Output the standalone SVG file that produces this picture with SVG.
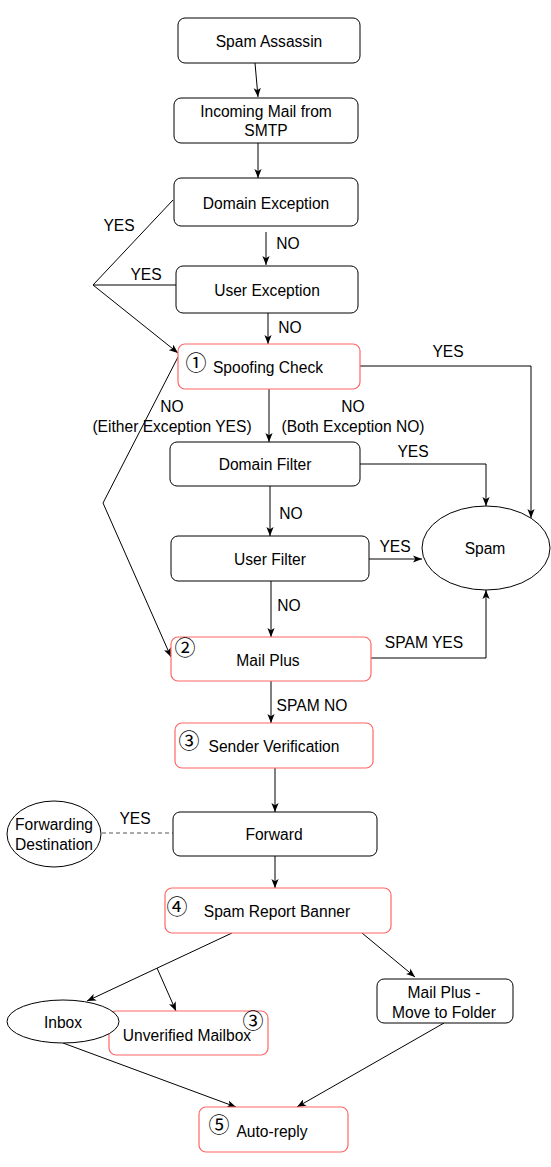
<svg xmlns="http://www.w3.org/2000/svg" width="551" height="1167" viewBox="0 0 551 1167">
<style>
.n{fill:#fff;stroke:#000;stroke-width:1}
.r{fill:#fff;stroke:#ff6666;stroke-width:1.2}
.t{font-family:"Liberation Sans",Arial,sans-serif;font-size:15.6px;fill:#000;text-anchor:middle}
.c{font-family:"Noto Sans CJK JP","DejaVu Sans",sans-serif;font-size:21px;fill:#000;text-anchor:middle}
.e{fill:none;stroke:#000;stroke-width:1}
.d{fill:none;stroke:#555;stroke-width:1;stroke-dasharray:4 3}
</style>
<defs>
<marker id="a" viewBox="0 0 10 8" refX="10" refY="4" markerWidth="9" markerHeight="7.5" orient="auto" markerUnits="userSpaceOnUse">
<path d="M0,0 L10,4 L0,8 L2.5,4 z" fill="#000"/>
</marker>
</defs>
<rect width="551" height="1167" fill="#fff"/>
<g id="connectors">
<path class="e" d="M255,63 L258,97" marker-end="url(#a)"/>
<path class="e" d="M258,143 L258,178" marker-end="url(#a)"/>
<path class="e" d="M266,232 L266,265" marker-end="url(#a)"/>
<path class="e" d="M268,313 L268,344" marker-end="url(#a)"/>
<path class="e" d="M173,200 L93,285 L178,353" marker-end="url(#a)"/>
<path class="e" d="M176,285 L93,285"/>
<path class="e" d="M269,389 L269,442" marker-end="url(#a)"/>
<path class="e" d="M360,366 L531,366 L531,518" marker-end="url(#a)"/>
<path class="e" d="M270,486 L270,536" marker-end="url(#a)"/>
<path class="e" d="M360,464 L486,464 L486,506" marker-end="url(#a)"/>
<path class="e" d="M369,559 L422,559" marker-end="url(#a)"/>
<path class="e" d="M271,581 L271,637" marker-end="url(#a)"/>
<path class="e" d="M178,357 L103,503 L171,657" marker-end="url(#a)"/>
<path class="e" d="M371,658 L486,658 L486,590" marker-end="url(#a)"/>
<path class="e" d="M271,681 L271,723" marker-end="url(#a)"/>
<path class="e" d="M275,768 L275,812" marker-end="url(#a)"/>
<path class="d" d="M102,833 L173,833"/>
<path class="e" d="M275,856 L275,888" marker-end="url(#a)"/>
<path class="e" d="M232,933 L87,1001" marker-end="url(#a)"/>
<path class="e" d="M157,968 L176,1011" marker-end="url(#a)"/>
<path class="e" d="M362,933 L415,977" marker-end="url(#a)"/>
<path class="e" d="M63,1043 L236,1107" marker-end="url(#a)"/>
<path class="e" d="M444,1023 L297,1107" marker-end="url(#a)"/>
</g>
<g id="labels">
<text class="t" x="119" y="231">YES</text>
<text class="t" x="146" y="280">YES</text>
<text class="t" x="288" y="249">NO</text>
<text class="t" x="290" y="333">NO</text>
<text class="t" x="448" y="357">YES</text>
<text class="t" x="172" y="412">NO</text>
<text class="t" x="172" y="432">(Either Exception YES)</text>
<text class="t" x="353" y="412">NO</text>
<text class="t" x="353" y="432">(Both Exception NO)</text>
<text class="t" x="413" y="457">YES</text>
<text class="t" x="291" y="519">NO</text>
<text class="t" x="395" y="552">YES</text>
<text class="t" x="289" y="611">NO</text>
<text class="t" x="424" y="648">SPAM YES</text>
<text class="t" x="312" y="711">SPAM NO</text>
<text class="t" x="135" y="824">YES</text>
</g>
<g id="spam-assassin"><rect class="n" x="178" y="18" width="182" height="45" rx="7"/><text class="t" x="269" y="46.5">Spam Assassin</text></g>
<g id="incoming"><rect class="n" x="174" y="98" width="184" height="45" rx="7"/><text class="t" x="266" y="116.5">Incoming Mail from</text><text class="t" x="266" y="136">SMTP</text></g>
<g id="domain-exception"><rect class="n" x="174" y="178" width="184" height="48" rx="7"/><text class="t" x="266" y="208.5">Domain Exception</text></g>
<g id="user-exception"><rect class="n" x="176" y="266" width="182" height="47" rx="7"/><text class="t" x="267" y="296">User Exception</text></g>
<g id="spoofing-check"><rect class="r" x="178" y="344" width="182" height="45" rx="7"/><text class="c" x="196" y="370">①</text><text class="t" x="268" y="372.5">Spoofing Check</text></g>
<g id="domain-filter"><rect class="n" x="170" y="442" width="190" height="44" rx="7"/><text class="t" x="265" y="469.5">Domain Filter</text></g>
<g id="user-filter"><rect class="n" x="171" y="536" width="198" height="45" rx="7"/><text class="t" x="270" y="564.5">User Filter</text></g>
<g id="spam"><ellipse class="n" cx="486" cy="548" rx="64" ry="42"/><text class="t" x="485" y="553.5">Spam</text></g>
<g id="mail-plus"><rect class="r" x="171" y="637" width="200" height="44" rx="7"/><text class="c" x="185" y="655">②</text><text class="t" x="268" y="665.5">Mail Plus</text></g>
<g id="sender-verification"><rect class="r" x="175" y="723" width="198" height="45" rx="7"/><text class="c" x="189" y="748">③</text><text class="t" x="274" y="751.5">Sender Verification</text></g>
<g id="forwarding-destination"><ellipse class="n" cx="54" cy="834" rx="47" ry="33"/><text class="t" x="54" y="829.5">Forwarding</text><text class="t" x="54" y="849.5">Destination</text></g>
<g id="forward"><rect class="n" x="173" y="812" width="204" height="44" rx="7"/><text class="t" x="274" y="839.5">Forward</text></g>
<g id="spam-report-banner"><rect class="r" x="165" y="888" width="226" height="45" rx="7"/><text class="c" x="177" y="914">④</text><text class="t" x="277" y="917">Spam Report Banner</text></g>
<g id="unverified-mailbox"><rect class="r" x="109" y="1011" width="159" height="44" rx="7"/><text class="t" x="187" y="1040.5">Unverified Mailbox</text><text class="c" x="253" y="1028">③</text></g>
<g id="inbox"><ellipse class="n" cx="63" cy="1021.5" rx="56" ry="21.5"/><text class="t" x="63" y="1028">Inbox</text></g>
<g id="mail-plus-move"><rect class="n" x="377" y="979" width="136" height="44" rx="7"/><text class="t" x="444" y="997.5">Mail Plus -</text><text class="t" x="444" y="1017.5">Move to Folder</text></g>
<g id="auto-reply"><rect class="r" x="199" y="1107" width="149" height="45" rx="7"/><text class="c" x="219" y="1132">⑤</text><text class="t" x="272" y="1136.5">Auto-reply</text></g>
</svg>
